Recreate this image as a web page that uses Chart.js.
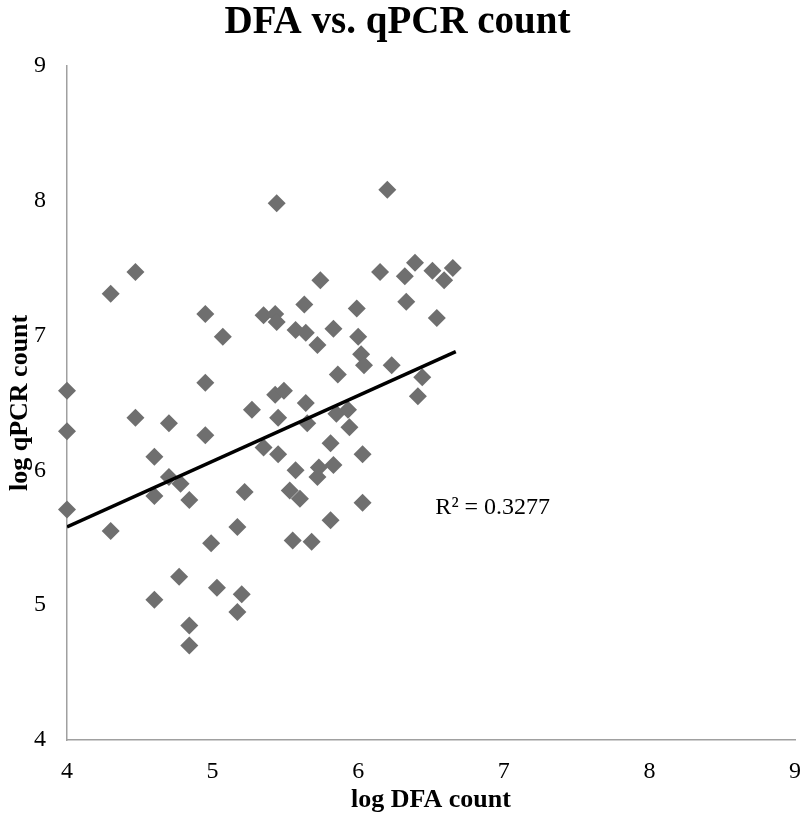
<!DOCTYPE html>
<html>
<head>
<meta charset="utf-8">
<title>DFA vs. qPCR count</title>
<script src="https://cdn.jsdelivr.net/npm/chart.js@4/dist/chart.umd.min.js"></script>
<style>
  html, body { margin: 0; padding: 0; background: #fff; }
  #wrap { width: 800px; height: 816px; }
</style>
</head>
<body>
<div id="wrap"><canvas id="myChart" width="800" height="816"></canvas></div>
<script>
'use strict';
// values
var dfaCount = [5.44, 4.47, 4.30, 4.95, 5.07, 5.35, 5.43, 5.44, 4.00, 4.95,
  5.43, 5.49, 5.27, 4.47, 4.70, 5.45, 4.00, 4.95, 6.20, 5.74,
  6.15, 6.32, 6.39, 6.51, 6.65, 6.59, 5.63, 5.99, 6.33, 6.54,
  5.57, 5.64, 5.83, 5.72, 6.00, 6.02, 6.04, 6.23, 5.86, 6.44,
  6.41, 5.64, 5.65, 5.85, 5.93, 5.94, 5.81, 5.35, 5.45, 4.60,
  4.70, 4.78, 4.60, 4.84, 5.22, 4.00, 4.30, 5.17, 4.99, 4.77,
  5.03, 5.20, 4.60, 5.17, 4.84, 4.84, 6.03, 5.57, 5.73, 5.72,
  5.83, 5.53, 5.60, 6.03, 5.81, 5.55, 5.68];
var qpcrCount = [7.98, 7.47, 7.31, 7.16, 6.99, 7.15, 7.16, 7.10, 6.59, 6.65,
  6.56, 6.59, 6.45, 6.39, 6.35, 6.39, 6.29, 6.26, 8.08, 7.41,
  7.47, 7.44, 7.54, 7.48, 7.50, 7.41, 7.23, 7.20, 7.25, 7.13,
  7.04, 7.02, 7.05, 6.93, 6.99, 6.86, 6.78, 6.78, 6.71, 6.69,
  6.55, 6.50, 6.35, 6.42, 6.45, 6.32, 6.20, 6.17, 6.12, 6.10,
  5.95, 5.90, 5.81, 5.78, 5.84, 5.71, 5.55, 5.58, 5.46, 5.21,
  5.13, 5.08, 5.04, 4.95, 4.85, 4.70, 6.12, 6.00, 6.02, 5.95,
  6.04, 5.85, 5.79, 5.76, 5.63, 5.48, 5.47];
var trendX = [4.00, 6.67];
var trendY = [5.58, 6.88];
var xTickValues = [4, 5, 6, 7, 8, 9];
var yTickValues = [4, 5, 6, 7, 8, 9];
var rSquaredText = 'R\u00b2 = 0.3277';
var rSquaredAt = {x: 6.53, y: 5.72};

var points = [];
for (var i = 0; i < dfaCount.length; i++) {
  points.push({x: dfaCount[i], y: qpcrCount[i]});
}
var trend = [];
for (var j = 0; j < trendX.length; j++) {
  trend.push({x: trendX[j], y: trendY[j]});
}

var serif = "'Liberation Serif', 'Times New Roman', serif";

function useTicks(values) {
  return function (scale) {
    scale.ticks = values.map(function (v) { return {value: v}; });
  };
}

var rSquaredLabel = {
  id: 'rSquaredLabel',
  afterDatasetsDraw: function (chart) {
    var ctx = chart.ctx;
    var px = chart.scales.x.getPixelForValue(rSquaredAt.x);
    var py = chart.scales.y.getPixelForValue(rSquaredAt.y);
    ctx.save();
    ctx.font = '24px ' + serif;
    ctx.fillStyle = '#000';
    ctx.textAlign = 'left';
    ctx.textBaseline = 'middle';
    ctx.fillText(rSquaredText, px, py);
    ctx.restore();
  }
};

var chart = new Chart(document.getElementById('myChart').getContext('2d'), {
  type: 'scatter',
  data: {
    datasets: [
      {
        label: 'qPCR',
        data: points,
        pointStyle: 'rectRot',
        pointRadius: 9,
        pointHoverRadius: 9,
        backgroundColor: '#6f6f6f',
        borderColor: '#6f6f6f',
        borderWidth: 0,
        clip: false,
        order: 2
      },
      {
        label: 'Linear',
        type: 'line',
        data: trend,
        borderColor: '#000',
        borderWidth: 3.5,
        pointRadius: 0,
        fill: false,
        order: 1
      }
    ]
  },
  options: {
    responsive: false,
    animation: false,
    layout: {autoPadding: false, padding: {left: 0, right: 5, top: 0, bottom: 0}},
    plugins: {
      legend: {display: false},
      tooltip: {enabled: false},
      title: {
        display: true,
        text: 'DFA vs. qPCR count',
        color: '#000',
        font: {family: serif, size: 39, weight: 'bold'},
        padding: {top: 0, bottom: 19}
      }
    },
    scales: {
      x: {
        type: 'linear',
        min: 4,
        max: 9,
        afterBuildTicks: useTicks(xTickValues),
        afterFit: function (scale) {
          scale.height = 76;
          scale.paddingLeft = 0;
          scale.paddingRight = 0;
        },
        grid: {display: false, drawTicks: false},
        border: {display: true, color: '#a0a0a0', width: 1.5},
        ticks: {color: '#000', padding: 17, font: {family: serif, size: 24}},
        title: {
          display: true,
          text: 'log DFA count',
          color: '#000',
          font: {family: serif, size: 26, weight: 'bold'},
          padding: {top: 0, bottom: 0}
        }
      },
      y: {
        type: 'linear',
        min: 4,
        max: 9,
        afterBuildTicks: useTicks(yTickValues),
        afterFit: function (scale) { scale.width = 67; },
        grid: {display: false, drawTicks: false},
        border: {display: true, color: '#a0a0a0', width: 1.5},
        ticks: {color: '#000', padding: 21, font: {family: serif, size: 24}},
        title: {
          display: true,
          text: 'log qPCR count',
          color: '#000',
          font: {family: serif, size: 26, weight: 'bold'},
          padding: {top: 5, bottom: 0}
        }
      }
    }
  },
  plugins: [rSquaredLabel]
});
</script>
</body>
</html>
